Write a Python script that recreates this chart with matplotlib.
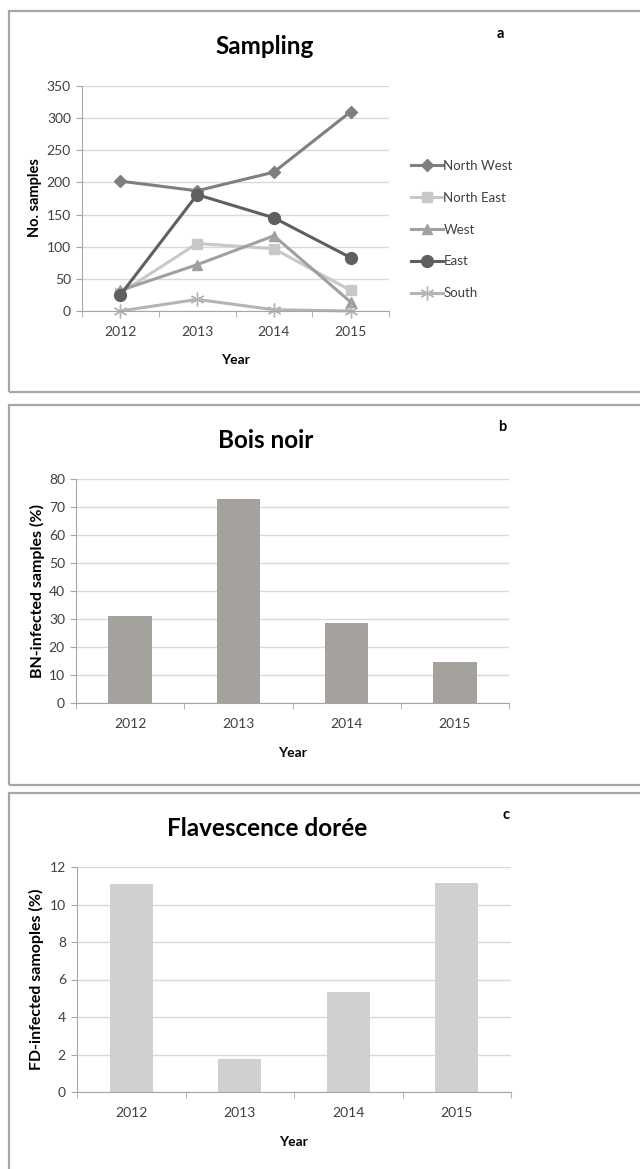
import matplotlib
matplotlib.use("Agg")
import matplotlib.pyplot as plt
from matplotlib.patches import Rectangle
import numpy as np

plt.rcParams['font.family'] = ['Lato', 'DejaVu Sans']

years = ['2012', '2013', '2014', '2015']
series_names = ['North West', 'North East', 'West', 'East', 'South']
north_west = [202, 187, 216, 310]
north_east = [28, 105, 97, 32]
west = [32, 72, 117, 14]
east = [25, 181, 145, 83]
south = [0, 18, 2, 0]
bn_infected = [31, 73, 28.5, 14.5]
fd_infected = [11.1, 1.75, 5.35, 11.15]

W, H = 640, 1169
fig = plt.figure(figsize=(W / 100, H / 100), dpi=100)

def fx(px):
    return px / W

def fy(py):
    return 1 - py / H

# panel borders
for (top, bottom) in [(11, 392), (405, 785), (793, 1175)]:
    fig.add_artist(Rectangle((fx(9), fy(bottom)), fx(640) - fx(9) + 0.01, fy(top) - fy(bottom),
                             transform=fig.transFigure, fill=False, edgecolor='#a6a6a6', lw=1.6))

grid_c = '#d9d9d9'
axis_c = '#a6a6a6'

def style_axes(ax, ymax, ystep):
    x = np.arange(len(years))
    ax.set_xlim(-0.5, len(years) - 0.5)
    ax.set_ylim(0, ymax)
    ax.set_yticks(np.arange(0, ymax + 0.001, ystep))
    ax.set_xticks(x)
    ax.set_xticklabels(years)
    ax.set_xticks(np.arange(-0.5, len(years), 1.0), minor=True)
    ax.tick_params(axis='x', which='major', length=0, pad=11, labelsize=10, colors='#404040')
    ax.tick_params(axis='x', which='minor', length=4, color=axis_c, direction='out')
    ax.tick_params(axis='y', length=4, color=axis_c, pad=4, labelsize=10, labelcolor='#404040')
    for s in ['top', 'right']:
        ax.spines[s].set_visible(False)
    ax.spines['left'].set_color(axis_c)
    ax.spines['bottom'].set_color(axis_c)
    ax.yaxis.grid(True, color=grid_c, lw=1)
    ax.set_axisbelow(True)

# ---------- Panel a ----------
axa = fig.add_axes([fx(82), fy(311), fx(389) - fx(82), fy(86) - fy(311)])
style_axes(axa, 350, 50)
xs = np.arange(len(years))
specs = [
    (north_west, '#7f7f7f', 'D', 6.5),
    (north_east, '#c8c8c8', 's', 7.5),
    (west, '#a0a0a0', '^', 7.5),
    (east, '#5f5f5f', 'o', 8.5),
    (south, '#b4b4b4', (6, 2, 0), 10),
]
for name, (vals, col, mk, ms) in zip(series_names, specs):
    axa.plot(xs, vals, color=col, lw=2.2, marker=mk, markersize=ms,
             markerfacecolor=col, markeredgecolor=col, label=name, clip_on=False)
leg = axa.legend(loc='upper left', bbox_to_anchor=(fx(411), fy(160)),
                 bbox_transform=fig.transFigure, frameon=False, fontsize=9.5,
                 handlelength=2.4, labelspacing=1.5, handletextpad=0.05,
                 borderaxespad=0, borderpad=0)
for t in leg.get_texts():
    t.set_color('#404040')
fig.text(fx(265), fy(47), 'Sampling', ha='center', va='center', fontsize=17.5, fontweight='bold')
fig.text(fx(500), fy(34), 'a', ha='center', va='center', fontsize=10.5, fontweight='bold')
fig.text(fx(35), fy(198), 'No. samples', ha='center', va='center', rotation=90, fontsize=10.5, fontweight='bold')
fig.text(fx(235), fy(360), 'Year', ha='center', va='center', fontsize=10, fontweight='bold')

# ---------- Panel b ----------
axb = fig.add_axes([fx(76), fy(703), fx(509) - fx(76), fy(479) - fy(703)])
style_axes(axb, 80, 10)
axb.bar(xs, bn_infected, width=0.4, color='#a5a29e')
fig.text(fx(266), fy(440), 'Bois noir', ha='center', va='center', fontsize=17.5, fontweight='bold')
fig.text(fx(502), fy(427), 'b', ha='center', va='center', fontsize=10.5, fontweight='bold')
fig.text(fx(37), fy(591), 'BN-infected samples (%)', ha='center', va='center', rotation=90, fontsize=11.5, fontweight='bold')
fig.text(fx(292), fy(753), 'Year', ha='center', va='center', fontsize=10, fontweight='bold')

# ---------- Panel c ----------
axc = fig.add_axes([fx(77), fy(1092), fx(511) - fx(77), fy(867) - fy(1092)])
style_axes(axc, 12, 2)
axc.bar(xs, fd_infected, width=0.4, color='#d0d0d0')
fig.text(fx(267), fy(828), 'Flavescence dorée', ha='center', va='center', fontsize=17.5, fontweight='bold')
fig.text(fx(506), fy(815), 'c', ha='center', va='center', fontsize=10.5, fontweight='bold')
fig.text(fx(36), fy(979), 'FD-infected samoples (%)', ha='center', va='center', rotation=90, fontsize=11.5, fontweight='bold')
fig.text(fx(293), fy(1142), 'Year', ha='center', va='center', fontsize=10, fontweight='bold')

fig.savefig('out.png', dpi=100)
